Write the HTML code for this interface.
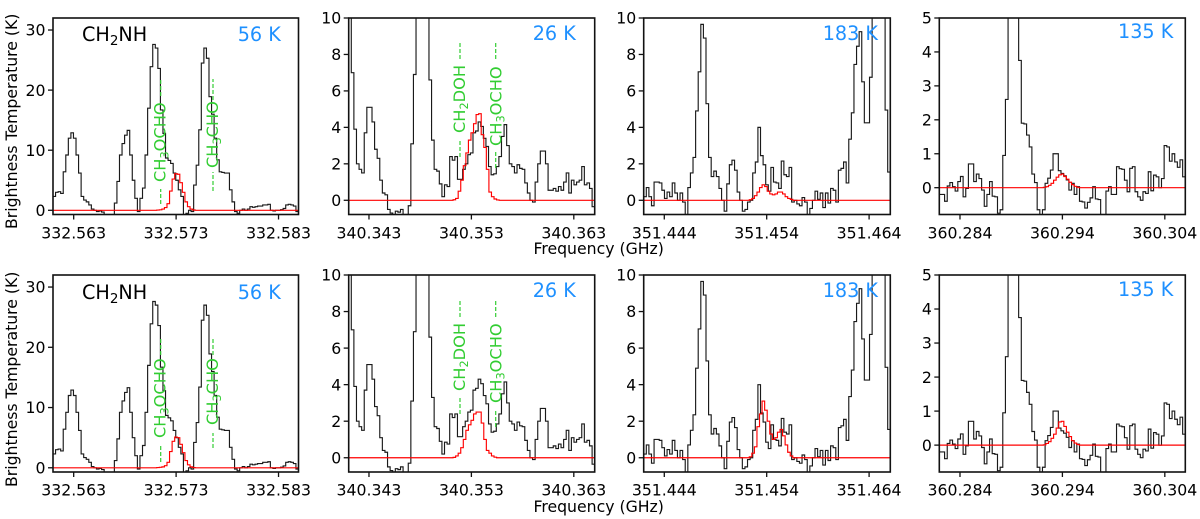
<!DOCTYPE html>
<html lang="en">
<head>
<meta charset="utf-8">
<title>CH2NH spectra</title>
<style>
html,body{margin:0;padding:0;background:#fff;width:1200px;height:519px;overflow:hidden}
svg{display:block;filter:blur(0.35px)}
text{font-family:"DejaVu Sans","Liberation Sans",sans-serif}
.g{font-size:16.2px;fill:#32cd32}
.t{font-size:19.2px;fill:#1e90ff}
.k{font-size:19.2px;fill:#000}
.lab{font-size:15.7px;fill:#000}
</style>
</head>
<body>
<svg id="fig" xmlns="http://www.w3.org/2000/svg" width="1200" height="519" viewBox="0 0 1200 519">
<rect width="1200" height="519" fill="#fff"/>
<g id="plots"></g>

<g id="annotations">
<text class="lab" transform="translate(17,229) rotate(-90)">Brightness Temperature (K)</text>
<text class="lab" transform="translate(17,487) rotate(-90)">Brightness Temperature (K)</text>
<text class="lab" x="598.7" y="254" text-anchor="middle">Frequency (GHz)</text>
<text class="lab" x="598.7" y="512" text-anchor="middle">Frequency (GHz)</text>

<text class="k" x="82" y="41">CH<tspan font-size="13.5" dy="4">2</tspan><tspan dy="-4">NH</tspan></text>
<text class="k" x="82" y="299">CH<tspan font-size="13.5" dy="4">2</tspan><tspan dy="-4">NH</tspan></text>

<text class="t" x="237.7" y="41">56 K</text>
<text class="t" x="532.7" y="40">26 K</text>
<text class="t" x="822.7" y="40">183 K</text>
<text class="t" x="1118" y="38">135 K</text>
<text class="t" x="237.7" y="299">56 K</text>
<text class="t" x="532.7" y="297">26 K</text>
<text class="t" x="822.7" y="297">183 K</text>
<text class="t" x="1118" y="296">135 K</text>

<g stroke="#32cd32" stroke-width="1.2" stroke-dasharray="4 2" fill="none">
<path d="M160.7 204V189M160.7 96V79"/>
<path d="M213 191V172M213 100V79"/>
<path d="M460 157V141M460 59V43"/>
<path d="M495.7 168V152M495.7 59V43"/>
<path d="M160.7 462V445M160.7 355V337"/>
<path d="M213 448V433M213 355V337"/>
<path d="M460 414V398M460 317V300"/>
<path d="M495.7 427V410M495.7 317V300"/>
</g>

<text class="g" transform="translate(165.7,182) rotate(-90)">CH<tspan font-size="11.3" dy="3">3</tspan><tspan dy="-3">OCHO</tspan></text>
<text class="g" transform="translate(218,168) rotate(-90)">CH<tspan font-size="11.3" dy="3">3</tspan><tspan dy="-3">CHO</tspan></text>
<text class="g" transform="translate(465,133) rotate(-90)">CH<tspan font-size="11.3" dy="3">2</tspan><tspan dy="-3">DOH</tspan></text>
<text class="g" transform="translate(501.3,146) rotate(-90)">CH<tspan font-size="11.3" dy="3">3</tspan><tspan dy="-3">OCHO</tspan></text>
<text class="g" transform="translate(165.7,438) rotate(-90)">CH<tspan font-size="11.3" dy="3">3</tspan><tspan dy="-3">OCHO</tspan></text>
<text class="g" transform="translate(218,425) rotate(-90)">CH<tspan font-size="11.3" dy="3">3</tspan><tspan dy="-3">CHO</tspan></text>
<text class="g" transform="translate(465,391) rotate(-90)">CH<tspan font-size="11.3" dy="3">2</tspan><tspan dy="-3">DOH</tspan></text>
<text class="g" transform="translate(501.3,403) rotate(-90)">CH<tspan font-size="11.3" dy="3">3</tspan><tspan dy="-3">OCHO</tspan></text>
</g>
</svg>

<script>
// Observed spectra (K), one value per channel
const observedA = [2.3,3,3.1,2.8,6.4,9.2,12,12.9,12,9.2,6.2,2.3,1.7,1.4,.9,.2,0,-.2,-.1,-.3,-1,-1,-1,-1,1.2,4.8,9.2,11.1,12.5,13.3,9.2,5,2,-.2,2,3.7,9.2,17,23.9,27.6,27,23.6,16.7,12.8,8.7,8.3,7.8,6.2,5,3.4,2.3,-1,-.5,0,-.2,4.2,7.5,13.4,24.5,27,25.3,18.9,16,12,8.4,6.4,6.3,6.2,6.2,3.4,1.4,-.2,-.5,0,.2,0,.2,.6,.5,.6,.7,.7,.9,.9,1,0,-.1,0,0,.1,.3,.9,1,.9,.7,-.2];
const observedB = [11,7,3.9,2,1.7,1.5,3.7,5.1,5.1,4.3,2.8,2.3,1.1,.4,.3,-.5,-.7,-.85,-.6,-.65,-.5,-1,-1,-.3,3.1,6.9,14,20,20,20,12,6.6,3.3,1.7,1.6,.9,.2,.85,.75,2.4,2.2,2.4,1.15,1.15,1.7,2,2.5,2.6,3.7,3.8,4.3,4.05,3.4,2.95,1.85,1.4,1.45,1.85,2.4,3.5,4.15,3,2,1.85,1.5,1.95,1.75,1.7,.95,.4,0,-.1,1,2,2.7,2.7,2,.55,.55,.65,.5,.75,.55,1,1.5,.4,1.1,.85,1,1.1,1.85,.85,.95,.65,-.35];
const observedC = [.2,.7,.2,-.3,1,1,.95,.55,.1,.45,.2,.95,.4,0,.4,-.1,-1,.7,1.5,2.35,4.9,7.05,9.65,8.9,5.3,2.35,1.3,1.6,1.3,.65,0,-.6,.9,1.95,2.2,1.65,.45,0,-.6,-.5,-.1,0,1.5,2.1,4,2.45,1.95,.85,.5,1.8,1,.95,.65,2.15,1.4,1.3,1.8,-.1,0,-.2,-.3,.15,-.1,-.9,-.45,0,.5,.05,.4,-.4,.4,-.15,.65,.55,-.1,1.65,1.75,2.1,.95,3.35,4.8,7.45,8.45,9.25,6.5,4.25,4.25,6.75,10.5,12,14,14,12,4.95,1.55];
const observedD = [-.2,-.2,-.4,.05,.15,.03,-.1,.18,.33,-.27,-.02,.7,.7,.18,.4,.27,-.07,-.55,-.2,.18,-.25,-.27,-.75,-.65,.95,2.6,6,9,9,6,3.75,1.9,1.88,1.55,1.2,.4,.15,-.65,-.85,-.65,.13,.28,.52,1,1,.5,.42,.35,.23,-.07,.13,-.2,.03,-.4,-.42,-.6,-.43,-.3,.03,-.33,-.35,-.8,-.85,-.1,.03,-.2,-.2,.62,.56,.54,.22,-.12,.57,.62,-.12,-.27,-.37,-.12,-.17,.47,-.09,.37,.32,0,.27,1.24,1.2,.78,1,.76,.6,.82,.32];

// Model spectra (K), one value per channel from the model start frequency
const modelA1 = [.03,.08,.2,.45,1.1,3.2,5.2,6.1,6.0,4.6,3.0,1.4,.6,.2,.05];
const modelB1 = [.03,.1,.5,1.1,1.9,2.6,3.3,3.7,4.2,4.7,4.75,3.6,2.9,1.7,.45,.2,.07,.02];
const modelC1 = [.03,.1,.25,.45,.7,.85,.75,.5,.35,.3,.35,.45,.45,.35,.2,.1,.05];
const modelD1 = [.01,.03,.07,.13,.22,.31,.38,.4,.33,.25,.16,.09,.04,.01];
const modelA2 = [.03,.07,.15,.35,.9,2.7,4.4,5.1,5.0,3.9,2.5,1.2,.5,.15,.04];
const modelB2 = [.02,.1,.25,.55,1,1.5,1.8,2.05,2.4,2.5,2.5,1.9,1,.4,.25,.1,.03];
const modelC2 = [.05,.25,.6,1.7,2.4,3.1,2.6,2,1.3,1,1.1,1.4,1.55,1.2,.7,.3,.1];
const modelD2 = [.01,.05,.1,.2,.32,.5,.68,.7,.55,.38,.25,.13,.06,.02];

// Axis ticks
const xTicksA = ['332.563','332.573','332.583'];
const xTicksB = ['340.343','340.353','340.363'];
const xTicksC = ['351.444','351.454','351.464'];
const xTicksD = ['360.284','360.294','360.304'];
const yTicksA = [0,10,20,30];
const yTicksB = [0,2,4,6,8,10];
const yTicksD = [0,1,2,3,4,5];

const SVGNS = 'http://www.w3.org/2000/svg';
const MODEL_STEP = 0.00025;
const columns = [
  {l:53,   r:298.5, x0:332.56098, x1:332.58495, y0:-.7,  y1:32, xt:xTicksA, yt:yTicksA, obs:observedA, ms:332.57111, m:[modelA1,modelA2]},
  {l:348.7,r:594.7, x0:340.34102, x1:340.36504, y0:-.78, y1:10, xt:xTicksB, yt:yTicksB, obs:observedB, ms:340.35121, m:[modelB1,modelB2]},
  {l:643.7,r:890.3, x0:351.44199, x1:351.46607, y0:-.78, y1:10, xt:xTicksC, yt:yTicksB, obs:observedC, ms:351.4523,  m:[modelC1,modelC2]},
  {l:939.3,r:1185.3,x0:360.28198, x1:360.30600, y0:-.79, y1:5,  xt:xTicksD, yt:yTicksD, obs:observedD, ms:360.29214, m:[modelD1,modelD2]}
];
const rows = [{t:18,b:214.5,tick:238.5},{t:275,b:472,tick:495.7}];

function node(tag,parent,attrs){
  const e=document.createElementNS(SVGNS,tag);
  for(const k in attrs)e.setAttribute(k,attrs[k]);
  parent.appendChild(e);
  return e;
}
const root=document.getElementById('plots');
const defs=node('defs',root,{});

rows.forEach((row,ri)=>{
  columns.forEach((c,ci)=>{
    const X=f=>c.l+(f-c.x0)/(c.x1-c.x0)*(c.r-c.l);
    const Y=v=>row.b-(v-c.y0)/(c.y1-c.y0)*(row.b-row.t);
    const id='clip'+ri+ci;
    const cp=node('clipPath',defs,{id:id});
    node('rect',cp,{x:c.l,y:row.t,width:c.r-c.l,height:row.b-row.t});

    const g=node('g',root,{});
    
    

    // observed
    const df=(c.x1-c.x0)/c.obs.length;
    let d='';
    c.obs.forEach((v,i)=>{
      const y=Y(v).toFixed(2);
      d+=(i?'L':'M')+X(c.x0+i*df).toFixed(2)+' '+y+'L'+X(c.x0+(i+1)*df).toFixed(2)+' '+y;
    });
    const black=node('path',g,{d:d,fill:'none',stroke:'#1a1a1a','stroke-width':1.15,'clip-path':'url(#'+id+')'});
    
    

    // model
    const vals=c.m[ri];
    let md='M'+c.l+' '+Y(0).toFixed(2)+'L'+X(c.ms).toFixed(2)+' '+Y(0).toFixed(2);
    vals.forEach((v,i)=>{
      const y=Y(v).toFixed(2);
      md+='L'+X(c.ms+i*MODEL_STEP).toFixed(2)+' '+y+'L'+X(c.ms+(i+1)*MODEL_STEP).toFixed(2)+' '+y;
    });
    md+='L'+X(c.ms+vals.length*MODEL_STEP).toFixed(2)+' '+Y(0).toFixed(2)+'L'+c.r+' '+Y(0).toFixed(2);
    const red=node('path',g,{d:md,fill:'none',stroke:'#ff0000','stroke-width':1.15,'clip-path':'url(#'+id+')'});
    
    

    // frame
    const frame=node('rect',g,{x:c.l,y:row.t,width:c.r-c.l,height:row.b-row.t,fill:'none',stroke:'#111','stroke-width':1.6});
    
    

    // x ticks
    c.xt.forEach(lbl=>{
      const x=X(parseFloat(lbl));
      const tm=node('line',g,{x1:x,x2:x,y1:row.b,y2:row.b+5,stroke:'#111','stroke-width':1.3});
      
      
      const tx=node('text',g,{x:x,y:row.tick,'text-anchor':'middle','font-size':'15.7'});
      
      
      tx.textContent=lbl;
    });
    // y ticks
    c.yt.forEach(v=>{
      const y=Y(v);
      const tm=node('line',g,{x1:c.l-5,x2:c.l,y1:y,y2:y,stroke:'#111','stroke-width':1.3});
      
      
      const tx=node('text',g,{x:c.l-7.5,y:y+5.7,'text-anchor':'end','font-size':'15.7'});
      
      
      tx.textContent=String(v);
    });
  });
});
</script>
</body>
</html>
